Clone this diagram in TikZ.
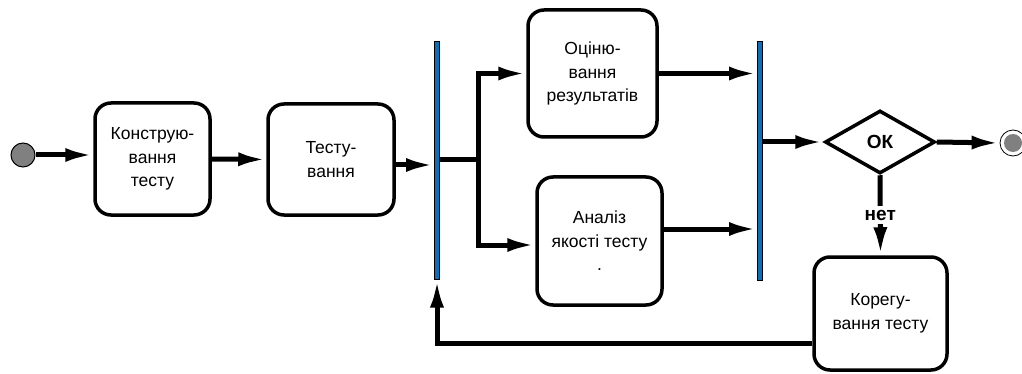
\documentclass[tikz,border=0pt]{standalone}
\usepackage{fontspec}
\setmainfont{Liberation Sans}
\usetikzlibrary{arrows.meta,shapes.geometric}

\begin{document}
\begin{tikzpicture}[x=1pt, y=-1pt,
    activityBox/.style={draw, line width=3.5pt, rounded corners=16pt, align=center,
        inner sep=0pt, font=\fontsize{17.5}{23.5}\selectfont},
    syncBar/.style={draw, line width=1pt, fill=barColour, minimum width=5pt, inner sep=0pt},
    flowArrow/.style={line width=5pt, -{Latex[length=28pt,width=14pt]}},
    flowLine/.style={line width=5pt}]

    \definecolor{barColour}{HTML}{0E6FB8}
    \definecolor{dotColour}{HTML}{808080}

    % Fix the page size
    \useasboundingbox (0,0) rectangle (1022,374);

    % Start and end states
    \node[circle, draw, line width=1pt, fill=dotColour, minimum size=24pt, inner sep=0pt] (start) at (23,155) {};
    \node[circle, draw, line width=0.8pt, fill=white, minimum size=26pt, inner sep=0pt] (finish) at (1013,143) {};
    \node[circle, fill=dotColour, minimum size=18pt, inner sep=0pt] at (finish.center) {};

    % Activities
    \node[activityBox, minimum width=115pt, minimum height=112pt] (construct) at (152.5,159) {Конструю-\\вання\\тесту};
    \node[activityBox, minimum width=126pt, minimum height=111pt] (testing) at (331,159.5) {Тесту-\\вання};
    \node[activityBox, minimum width=129pt, minimum height=127pt] (evaluate) at (592.5,73.5) {Оціню-\\вання\\результатів};
    \node[activityBox, minimum width=125pt, minimum height=128pt] (analyse) at (599.5,241) {Аналіз\\якості тесту\\.};
    \node[activityBox, minimum width=133pt, minimum height=113pt] (correct) at (880.5,313.5) {Корегу-\\вання тесту};

    % Fork and join bars
    \node[syncBar, minimum height=237pt] (fork) at (437,160.5) {};
    \node[syncBar, minimum height=238pt] (join) at (760,161) {};

    % Decision
    \node[diamond, draw, line width=3.5pt, inner sep=0pt, minimum width=110pt, minimum height=63pt,
        font=\fontsize{19}{22}\selectfont\bfseries] (check) at (880,142) {ОК};

    % Flows
    \draw[flowArrow] (start.east) -- (start.east -| construct.west);
    \draw[flowArrow] (construct.east) -- (testing.west);
    \draw[flowArrow] ([yshift=-5.5pt]testing.east) -- ([yshift=-5.5pt]testing.east -| fork.west);
    \coordinate (split) at (478,160);
    \draw[flowLine] (fork.east |- split) -- ([xshift=2.5pt]split);
    \draw[flowArrow] ([yshift=2.5pt]split) |- (evaluate.west);
    \draw[flowArrow] ([yshift=-2.5pt]split) |- ([yshift=-4pt]analyse.west);
    \draw[flowArrow] (evaluate.east) -- (evaluate.east -| join.west);
    \draw[flowArrow] ([yshift=12pt]analyse.east) -- ([yshift=12pt]analyse.east -| join.west);
    \draw[flowArrow] (join.east |- check.west) -- (check.west);
    \draw[flowArrow] (check.east) -- (finish.west);
    \draw[flowArrow] (check.south) -- node[fill=white, inner sep=4pt, font=\fontsize{19}{22}\selectfont\bfseries] {нет} (correct.north);
    \draw[flowArrow] ([yshift=-29.5pt]correct.west) -| (fork.south);

\end{tikzpicture}
\end{document}
